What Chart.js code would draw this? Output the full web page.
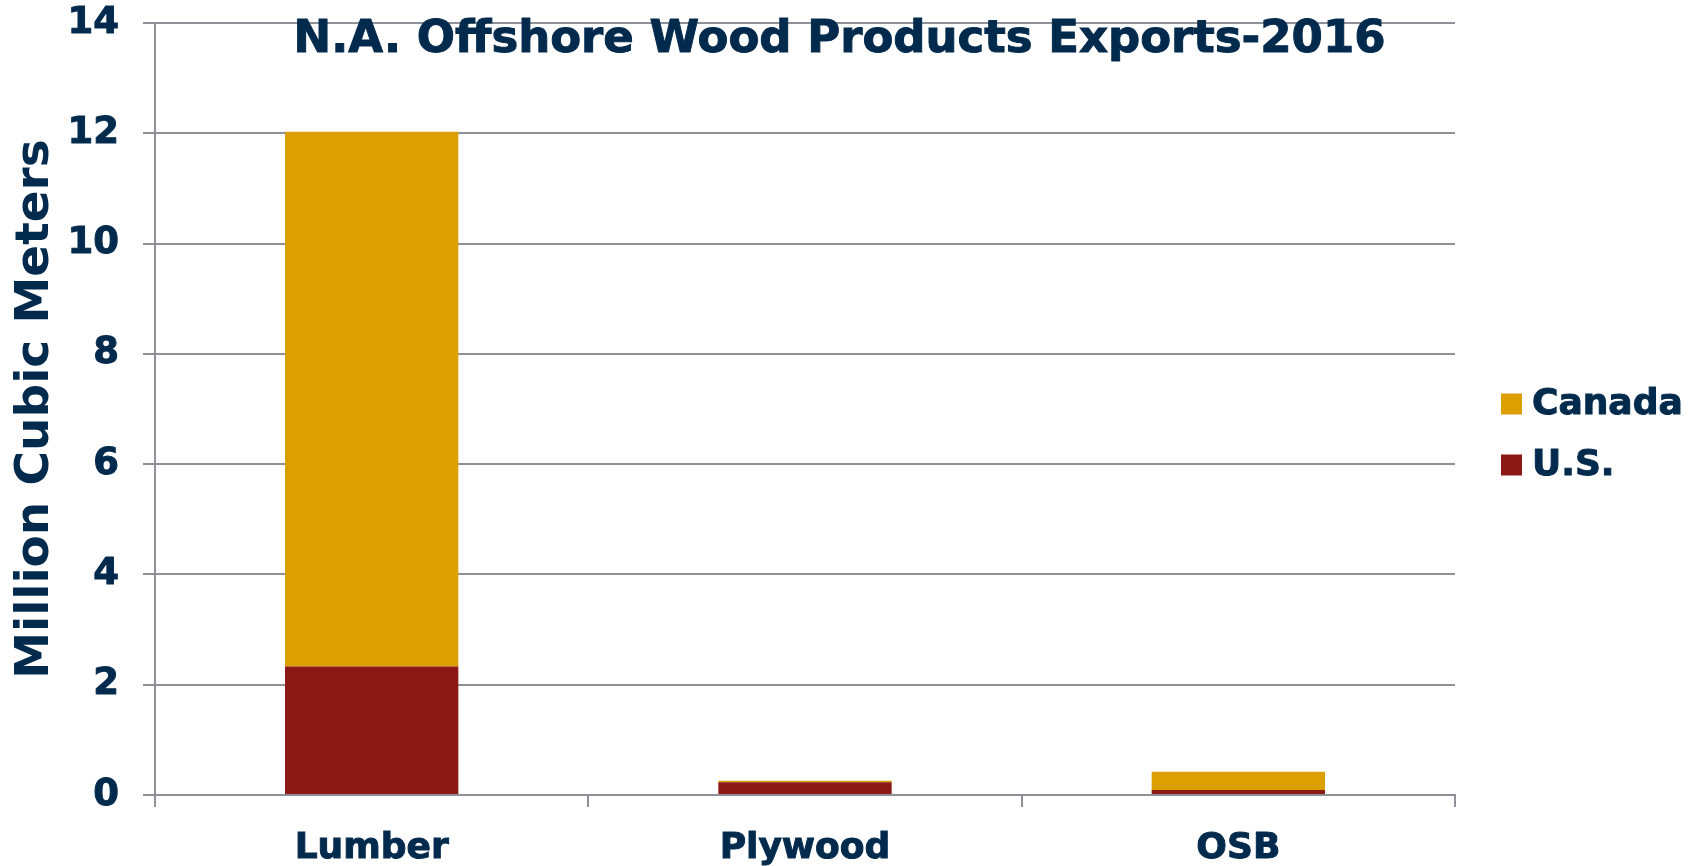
<!DOCTYPE html>
<html>
<head>
<meta charset="utf-8">
<script src="https://cdn.jsdelivr.net/npm/chart.js@4/dist/chart.umd.min.js"></script>
<style>
  html, body { margin: 0; padding: 0; background: #fff; }
  #wrap { width: 1703px; height: 866px; position: relative; }
</style>
</head>
<body>
<div id="wrap"><canvas id="exportsChart"></canvas></div>
<script>
// 2016 offshore exports, million cubic meters
const categories = ['Lumber', 'Plywood', 'OSB'];
const usValues = [2.33, 0.23, 0.09];
const canadaValues = [9.70, 0.03, 0.33];
const yTicks = [0, 2, 4, 6, 8, 10, 12, 14];

const NAVY = '#022a4d';
const GRID = '#8e9198';
const FONT = "'DejaVu Sans', Verdana, sans-serif";

// filled text with a thin outline in the same colour, for a heavier bold
function heavyText(ctx, text, x, y) {
    ctx.fillText(text, x, y);
    ctx.strokeText(text, x, y);
}

// Title sits inside the plot, over the top gridline
const titlePlugin = {
    id: 'insideTitle',
    afterDraw(chart) {
        const ctx = chart.ctx;
        const area = chart.chartArea;
        ctx.save();
        ctx.font = 'bold 45px ' + FONT;
        ctx.fillStyle = NAVY;
        ctx.strokeStyle = NAVY;
        ctx.lineWidth = 1;
        ctx.textAlign = 'center';
        ctx.textBaseline = 'alphabetic';
        heavyText(ctx, 'N.A. Offshore Wood Products Exports-2016', chart.width / 2 - 12, area.top + 29);
        ctx.restore();
    }
};

// Vertical legend to the right, Canada listed first
const legendPlugin = {
    id: 'sideLegend',
    afterDraw(chart) {
        const ctx = chart.ctx;
        const area = chart.chartArea;
        const mid = (area.top + area.bottom) / 2 + 25;
        const items = chart.data.datasets.slice().reverse();
        const rowGap = 61;
        const x = area.right + 46;
        ctx.save();
        ctx.font = 'bold 36px ' + FONT;
        ctx.textBaseline = 'middle';
        ctx.textAlign = 'left';
        ctx.lineWidth = 1;
        items.forEach((ds, i) => {
            const y = mid + (i - (items.length - 1) / 2) * rowGap;
            ctx.fillStyle = ds.backgroundColor;
            ctx.fillRect(x, y - 10, 21, 21);
            ctx.fillStyle = NAVY;
            ctx.strokeStyle = NAVY;
            heavyText(ctx, ds.label, x + 31, y + 1);
        });
        ctx.restore();
    }
};

new Chart(document.getElementById('exportsChart'), {
    type: 'bar',
    data: {
        labels: categories,
        datasets: [
            {
                label: 'U.S.',
                data: usValues,
                backgroundColor: '#8b1915',
                borderWidth: 0
            },
            {
                label: 'Canada',
                data: canadaValues,
                backgroundColor: '#dba000',
                borderWidth: 0
            }
        ]
    },
    options: {
        responsive: true,
        maintainAspectRatio: false,
        animation: false,
        layout: {
            padding: { top: 23, right: 248, bottom: 0, left: 0 }
        },
        datasets: {
            bar: { categoryPercentage: 1.0, barPercentage: 0.4 }
        },
        scales: {
            x: {
                stacked: true,
                afterFit(scale) { scale.height = 71; },
                grid: {
                    offset: true,
                    drawOnChartArea: false,
                    tickLength: 12,
                    color: GRID,
                    lineWidth: 2
                },
                border: { display: true, color: GRID, width: 2 },
                ticks: {
                    padding: 20,
                    color: NAVY,
                    textStrokeColor: NAVY,
                    textStrokeWidth: 1,
                    font: { family: FONT, size: 36, weight: 'bold' }
                }
            },
            y: {
                stacked: true,
                min: 0,
                max: 14,
                afterFit(scale) {
                    scale.width = 155;
                    // label overflow is covered by the layout padding
                    scale.paddingTop = 0;
                    scale.paddingBottom = 0;
                },
                afterBuildTicks(scale) {
                    scale.ticks = yTicks.map(v => ({ value: v }));
                },
                grid: {
                    color: GRID,
                    lineWidth: 2,
                    tickLength: 12
                },
                border: { display: true, color: GRID, width: 2 },
                ticks: {
                    padding: 24,
                    color: NAVY,
                    textStrokeColor: NAVY,
                    textStrokeWidth: 1,
                    font: { family: FONT, size: 37, weight: 'bold' }
                },
                title: {
                    display: true,
                    text: 'Million Cubic Meters',
                    color: NAVY,
                    padding: { top: 8, bottom: 0 },
                    font: { family: FONT, size: 47, weight: 'bold' }
                }
            }
        },
        plugins: {
            legend: { display: false },
            title: { display: false },
            tooltip: { enabled: false }
        }
    },
    plugins: [titlePlugin, legendPlugin]
});
</script>
</body>
</html>
